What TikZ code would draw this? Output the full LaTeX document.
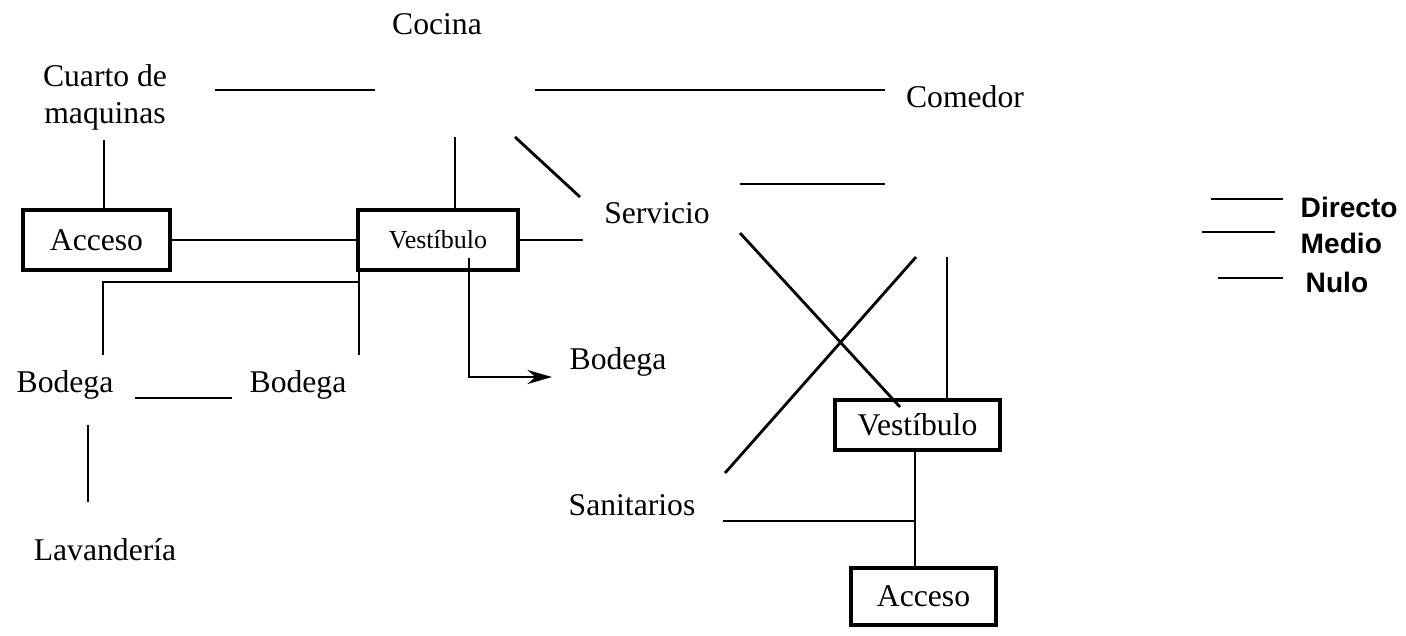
\documentclass[tikz,border=0pt]{standalone}
\usepackage{fontspec}
\setmainfont{Liberation Serif}
\newfontfamily\legfont{Liberation Sans}
\usetikzlibrary{arrows.meta}
\begin{document}
\begin{tikzpicture}[x=0.01cm,y=-0.01cm,
 conn/.style={line width=0.8pt},
 lbl/.style={font=\fontsize{9}{10.5}\selectfont, inner sep=0pt, align=center},
 box/.style={draw, line width=0.9pt, inner sep=0pt, font=\fontsize{9}{10.5}\selectfont},
 leg/.style={font=\legfont\bfseries\fontsize{8}{9}\selectfont, anchor=west, inner sep=0pt}]
\useasboundingbox (0,0) rectangle (1406,635);
% labels
\node[lbl] (cocina) at (437,24) {Cocina};
\node[lbl] (cuarto) at (105,97) {Cuarto de\\maquinas};
\node[lbl] (comedor) at (965,97) {Comedor};
\node[lbl] (servicio) at (657,213) {Servicio};
\node[lbl] (bodr) at (618,362) {Bodega};
\node[lbl] (bodl) at (65,385) {Bodega};
\node[lbl] (bodm) at (298,385) {Bodega};
\node[lbl] (lav) at (105,550) {Lavandería};
\node[lbl] (sanit) at (632,505) {Sanitarios};
% boxes
\node[box, minimum width=1.47cm, minimum height=0.6cm] (acc1) at (96.5,240) {Acceso};
\node[box, minimum width=1.6cm, minimum height=0.6cm, font=\fontsize{7.4}{9}\selectfont] (vest1) at (438,240) {Vestíbulo};
\node[box, minimum width=1.65cm, minimum height=0.5cm] (vest2) at (917.5,425) {Vestíbulo};
\node[box, minimum width=1.45cm, minimum height=0.57cm] (acc2) at (923.5,596.5) {Acceso};
% free ends
\coordinate (a1) at (215,90);
\coordinate (a2) at (375,90);
\coordinate (b1) at (535,90);
\coordinate (b2) at (885,90);
\coordinate (q1) at (104,140);
\coordinate (k1) at (455,137);
\coordinate (d1) at (515,137);
\coordinate (d2) at (580,197);
\coordinate (s1) at (583,240);
\coordinate (h1) at (740,184);
\coordinate (h2) at (885,184);
\coordinate (v1) at (469,258);
\coordinate (v2) at (469,377);
\coordinate (v3) at (552,377);
\coordinate (w1) at (359,355);
\coordinate (w2) at (103,355);
\coordinate (w3) at (103,282);
\coordinate (w4) at (359,282);
\coordinate (bb1) at (135,398);
\coordinate (bb2) at (232,398);
\coordinate (l1) at (88,425);
\coordinate (l2) at (88,502);
\coordinate (x1) at (740,233);
\coordinate (x2) at (900,407);
\coordinate (y1) at (916,257);
\coordinate (y2) at (725,473);
\coordinate (c1) at (947,257);
\coordinate (t1) at (723,521);
\coordinate (t2) at (915,521);
% connectors
\draw[conn] (a1) -- (a2);
\draw[conn] (b1) -- (b2);
\draw[conn] (q1) -- (q1 |- acc1.north);
\draw[conn] (acc1.east) -- (vest1.west);
\draw[conn] (k1) -- (k1 |- vest1.north);
\draw[conn] (d1) -- (d2);
\draw[conn] (vest1.east) -- (s1);
\draw[conn] (h1) -- (h2);
\draw[conn, -{Stealth[length=7pt,width=4pt]}] (v1) -- (v2) -- (v3);
\draw[conn] (w1 |- vest1.south) -- (w1);
\draw[conn] (w2) -- (w3) -- (w4);
\draw[conn] (bb1) -- (bb2);
\draw[conn] (l1) -- (l2);
\draw[conn] (x1) -- (x2);
\draw[conn] (y1) -- (y2);
\draw[conn] (c1) -- (c1 |- vest2.north);
\draw[conn] (t2 |- vest2.south) -- (t2 |- acc2.north);
\draw[conn] (t1) -- (t2);
% legend
\coordinate (g1a) at (1211,199); \coordinate (g1b) at (1283,199);
\coordinate (g2a) at (1202,232); \coordinate (g2b) at (1275,232);
\coordinate (g3a) at (1218,278); \coordinate (g3b) at (1283,278);
\draw[conn] (g1a) -- (g1b);
\draw[conn] (g2a) -- (g2b);
\draw[conn] (g3a) -- (g3b);
\node[leg] (ldir) at (1300,207) {Directo};
\node[leg] (lmed) at (1300,243) {Medio};
\node[leg] (lnul) at (1305,282) {Nulo};
\end{tikzpicture}
\end{document}
